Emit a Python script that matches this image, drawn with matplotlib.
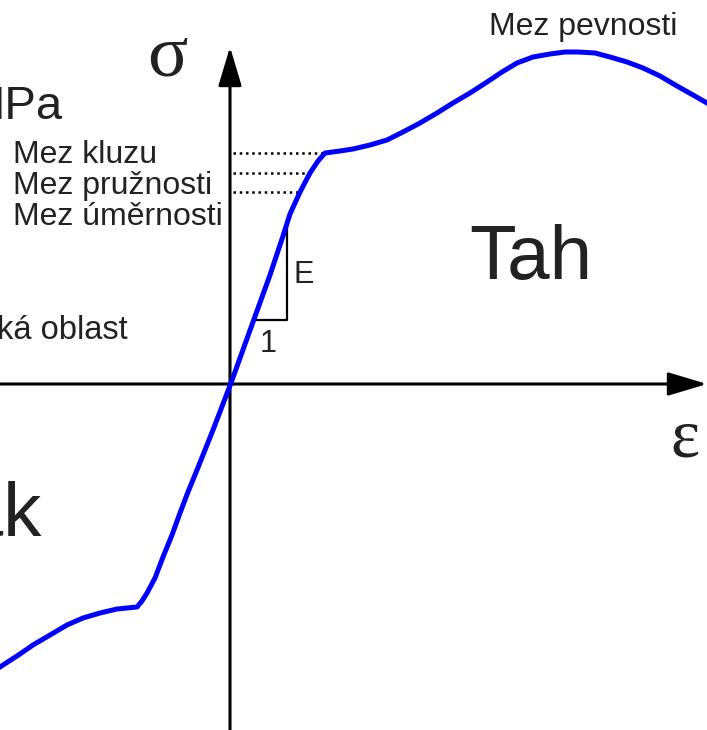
import numpy as np
import matplotlib
matplotlib.use('Agg')
import matplotlib.pyplot as plt

# Pracovni diagram: napeti sigma vs. pomerne prodlouzeni epsilon (libovolne jednotky)
eps = [-2.31, -2.14, -1.98, -1.81, -1.64, -1.48, -1.31, -1.14, -0.94,
       -0.89, -0.84, -0.76, -0.68, -0.59, -0.51, -0.43, -0.34, -0.18,
       0.0, 0.22, 0.39, 0.52, 0.59, 0.69, 0.79, 0.87, 0.94,
       1.09, 1.22, 1.39, 1.56, 1.72, 1.89, 2.06, 2.22, 2.39, 2.56, 2.71, 2.86,
       3.02, 3.19, 3.34, 3.47, 3.64, 3.79, 3.96, 4.12, 4.29, 4.46, 4.62, 4.76]
sig = [-2.84, -2.73, -2.62, -2.52, -2.42, -2.35, -2.30, -2.26, -2.24,
       -2.18, -2.10, -1.95, -1.74, -1.52, -1.30, -1.09, -0.87, -0.47,
       0.0, 0.61, 1.08, 1.47, 1.69, 1.91, 2.10, 2.22, 2.30,
       2.32, 2.34, 2.38, 2.43, 2.51, 2.60, 2.70, 2.80, 2.90, 3.01, 3.11, 3.20,
       3.26, 3.29, 3.31, 3.31, 3.30, 3.26, 3.21, 3.15, 3.07, 2.97, 2.88, 2.80]

# meze (napeti, deformace na krivce)
mez_nazvy = ['Mez kluzu', 'Mez pružnosti', 'Mez úměrnosti']
mez_sig = [2.30, 2.10, 1.91]
mez_eps = [0.94, 0.79, 0.69]

# trojuhelnik pro modul pruznosti E
troj_eps = [0.22, 0.56, 0.56]
troj_sig = [0.63, 0.63, 1.58]

plt.rcParams['font.family'] = ['Liberation Sans', 'DejaVu Sans']
txt = '#222222'

fig = plt.figure(figsize=(7.07, 7.30), dpi=100)
ax = fig.add_axes([0, 0, 1, 1])
ax.set_xlim(-2.31, 4.76)
ax.set_ylim(-3.47, 3.83)
ax.axis('off')

# osy se sipkami
arr = dict(arrowstyle='-|>,head_length=1.2,head_width=0.36', lw=2.2, color='k',
           mutation_scale=20, shrinkA=0, shrinkB=0)
ax.annotate('', xy=(4.76, -0.01), xytext=(-2.31, -0.01), arrowprops=arr)
ax.annotate('', xy=(-0.01, 3.36), xytext=(-0.01, -3.47), arrowprops=arr)

# teckovane cary k mezim
for s, e in zip(mez_sig, mez_eps):
    ax.plot([0.02, e], [s, s], color='k', lw=1.8, linestyle=(0, (1, 1.5)),
            dash_capstyle='butt')

ax.plot(troj_eps, troj_sig, color='k', lw=1.6)

# krivka
ax.plot(eps, sig, color='#0000ff', lw=3.6, solid_joinstyle='round', zorder=5)

# popisky
for i, nazev in enumerate(mez_nazvy):
    ax.text(-2.18, 2.20 - 0.31 * i, nazev, fontsize=23, color=txt, va='baseline')

ax.text(2.58, 3.48, 'Mez pevnosti', fontsize=23, color=txt, va='baseline')
ax.text(-1.69, 2.64, 'MPa', fontsize=34, color=txt, va='baseline', ha='right')
ax.text(-1.03, 0.44, 'Elastická oblast', fontsize=23.5, color=txt, va='baseline', ha='right')
ax.text(0.62, 1.00, 'E', fontsize=22, color=txt, va='baseline')
ax.text(0.37, 0.31, '1', fontsize=22, color=txt, va='baseline', ha='center')
ax.text(3.0, 1.23, 'Tah', fontsize=55, color=txt, ha='center', va='center')
ax.text(-1.89, -1.53, 'Tlak', fontsize=55, color=txt, ha='right', va='baseline')

ax.text(-0.64, 3.25, 'σ', fontsize=54, color=txt, family='Liberation Serif',
        ha='center', va='center')
ax.text(4.54, -0.57, 'ε', fontsize=50, color=txt, family='Liberation Serif',
        ha='center', va='center')

fig.savefig('out.png', dpi=100)
